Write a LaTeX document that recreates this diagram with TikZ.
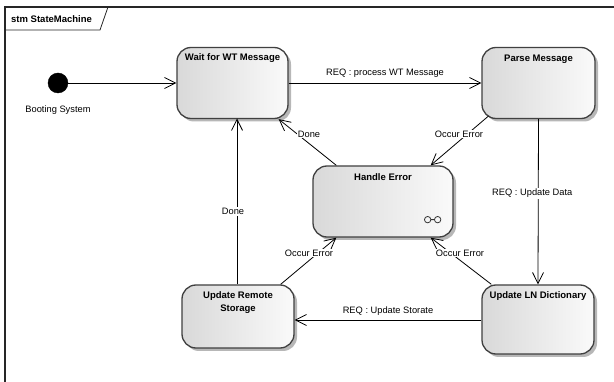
\documentclass[tikz,border=0pt]{standalone}
\usepackage{fontspec}
\setmainfont{Liberation Sans}
\usetikzlibrary{arrows.meta,shadows,calc}
\begin{document}
\begin{tikzpicture}[x=1pt,y=-1pt,
  state/.style={draw=black!75, line width=1.3pt, rounded corners=14pt,
    left color=black!15, right color=black!2,
    drop shadow={shadow xshift=3pt,shadow yshift=-3pt,fill=black!40,opacity=0.7},
    inner sep=0pt, anchor=center},
  ttl/.style={font=\bfseries\fontsize{9.5}{11.5}\selectfont, inner sep=0pt, anchor=north, yshift=-7pt, align=center},
  lbl/.style={font=\fontsize{9.3}{11}\selectfont, inner sep=1pt},
  wlbl/.style={lbl, fill=white},
  edge/.style={draw=black, line width=0.8pt, -{Straight Barb[length=11pt,width=11pt,line width=0.8pt]}},
]
\fill[white] (0,0) rectangle (614,382);
\useasboundingbox (0,0) rectangle (614,382);
% frame
\draw[line width=1.1pt, black!85] (5,382) -- (5,7) -- (614,7);
\draw[line width=0.8pt, black!85] (5,30) -- (100,30) -- (108,7);
\node[font=\bfseries\fontsize{9.5}{11}\selectfont, inner sep=0pt, anchor=west] (frm) at (11,19) {stm StateMachine};
% states
\node[circle, fill=black, draw=black, minimum size=20pt, inner sep=0pt] (init) at (58,83) {};
\node[lbl] (bootlbl) at (58,110) {Booting System};
\node[state, minimum width=111pt, minimum height=71pt, label={[ttl]north:Wait for WT Message}] (W) at (232.5,83) {};
\node[state, minimum width=113pt, minimum height=71pt, label={[ttl, yshift=-1pt]north:Parse Message}] (P) at (538.5,83) {};
\node[state, minimum width=140pt, minimum height=71pt, label={[ttl, yshift=-1pt]north:Handle Error}] (H) at (383,201.5) {};
\node[state, minimum width=112pt, minimum height=63pt, label={[ttl]north:Update Remote\\[2pt]Storage}] (R) at (238,316.5) {};
\node[state, minimum width=112pt, minimum height=69pt, label={[ttl]north:Update LN Dictionary}] (L) at (538,319.5) {};
% composite icon
\coordinate (ic1) at ($(H.south east)+(-26,-18)$);
\coordinate (ic2) at ($(H.south east)+(-16,-18)$);
\draw[line width=0.8pt, black!80] (ic1) circle (3.2) (ic2) circle (3.2) ($(ic1)+(3.2,0)$) -- ($(ic2)+(-3.2,0)$);
% transitions
\draw[edge] (init) -- (W.west |- init);
\draw[edge] (W.east) -- node[lbl, above=4pt] (l1) {REQ : process WT Message} (P.west);
\draw[edge] (P.south) -- node[wlbl, pos=0.45, xshift=-6pt] (l2) {REQ : Update Data} (L.north);
\draw[edge] (L.west |- 0,320) -- node[lbl, above=3pt] (l3) {REQ : Update Storate} (R.east |- 0,320);
\draw[edge] (R.north -| 237,0) -- node[wlbl, pos=0.44, xshift=-4pt] (l4) {Done} (237,118.5);
\draw[edge] ($(H.north west)+(24,0)$) -- ($(W.south east)+(-10,0)$);
\node[wlbl] (l5) at (309,134) {Done};
\draw[edge] ($(P.south west)+(7,-3)$) -- ($(H.north east)+(-23,0)$);
\node[wlbl] (l6) at (459,134) {Occur Error};
\draw[edge] ($(R.north east)+(-14,0)$) -- ($(H.south west)+(24,0)$);
\node[wlbl] (l7) at (309,253) {Occur Error};
\draw[edge] ($(L.north west)+(10,0)$) -- ($(H.south east)+(-23,0)$);
\node[wlbl] (l8) at (460,253) {Occur Error};
\end{tikzpicture}
\end{document}
